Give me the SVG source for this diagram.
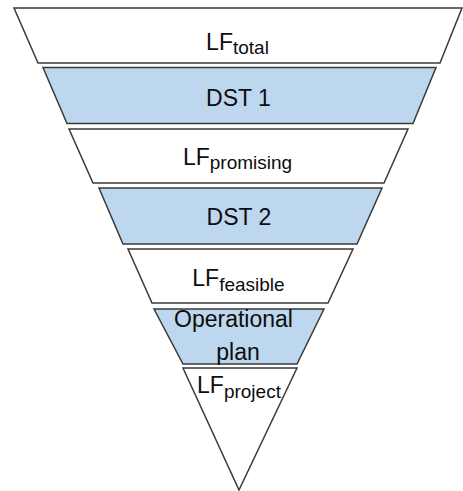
<svg xmlns="http://www.w3.org/2000/svg" width="463" height="491" viewBox="0 0 463 491">
<style>
.band{stroke:#3a3a3a;stroke-width:1.5;stroke-linejoin:miter}
.w{fill:#ffffff}
.b{fill:#bdd7ee}
.t{font-family:"Liberation Sans",Arial,sans-serif;font-size:23px;fill:#0d0d0d;text-anchor:middle}
.s{font-size:19px}
</style>
<rect width="463" height="491" fill="#ffffff"/>
<g id="lf-total">
<polygon class="band w" points="14,8 462,8 440,63 38,63"/>
<text class="t" x="237.5" y="50">LF<tspan class="s" dy="4">total</tspan></text>
</g>
<g id="dst1">
<polygon class="band b" points="43,67.5 436,67.5 413,123.5 67,123.5"/>
<text class="t" x="238.5" y="106">DST 1</text>
</g>
<g id="lf-promising">
<polygon class="band w" points="69,129 408,129 384,183 93,183"/>
<text class="t" x="237.5" y="165">LF<tspan class="s" dy="4">promising</tspan></text>
</g>
<g id="dst2">
<polygon class="band b" points="99,188 382,188 357,244 123,244"/>
<text class="t" x="239" y="225">DST 2</text>
</g>
<g id="lf-feasible">
<polygon class="band w" points="128,249 353,249 328,303 152,303"/>
<text class="t" x="238.5" y="286">LF<tspan class="s" dy="5">feasible</tspan></text>
</g>
<g id="operational-plan">
<polygon class="band b" points="154,309 324,309 297,364 183,364"/>
<text class="t" x="233.5" y="327">Operational</text>
<text class="t" x="238" y="360">plan</text>
</g>
<g id="lf-project">
<polygon class="band w" points="183,368 297,368 239,490"/>
<text class="t" x="239" y="393">LF<tspan class="s" dy="5">project</tspan></text>
</g>
</svg>
